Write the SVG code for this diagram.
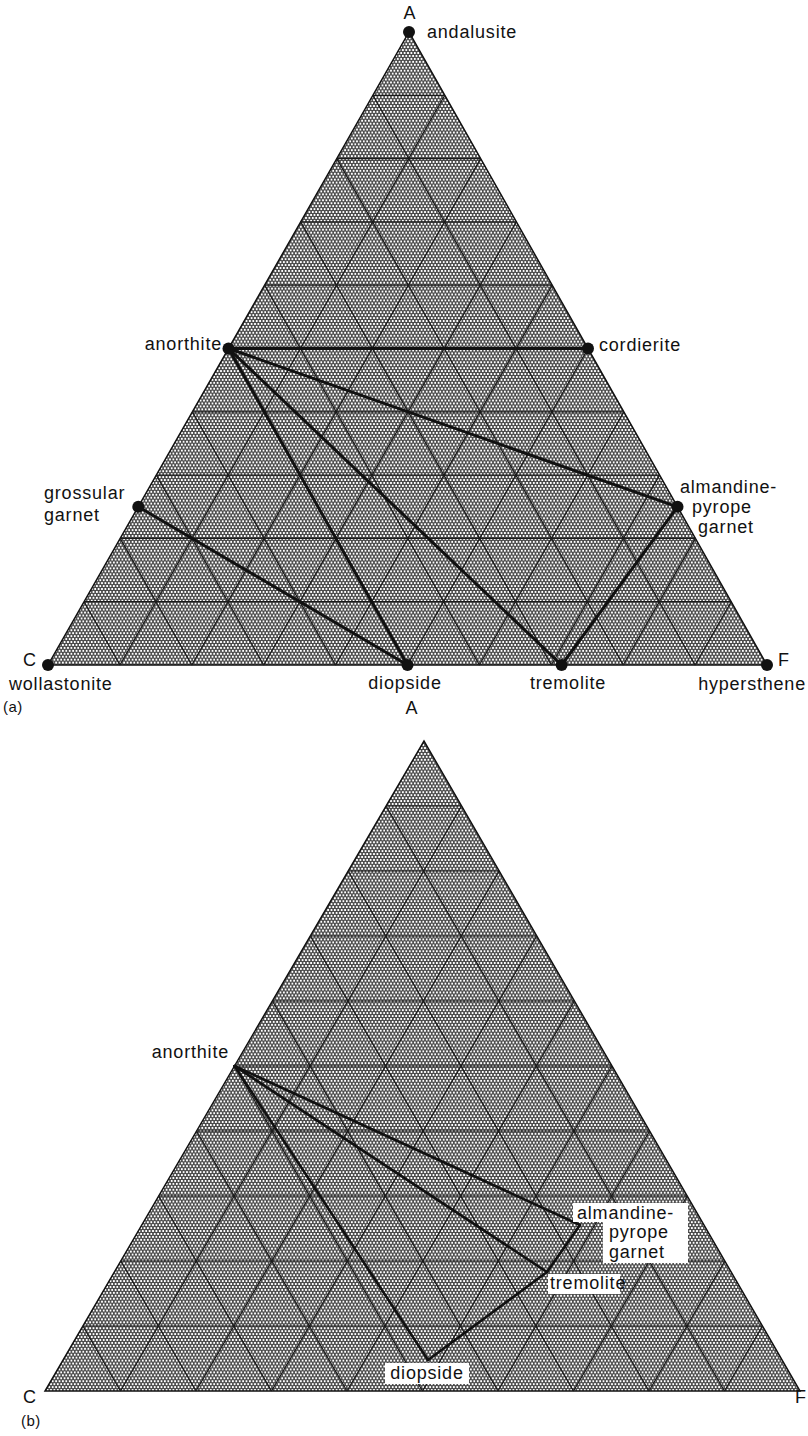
<svg xmlns="http://www.w3.org/2000/svg" width="808" height="1436" viewBox="0 0 808 1436">
<style>
text{font-family:"Liberation Sans",Arial,sans-serif;font-size:18px;fill:#111;letter-spacing:0.8px}
.mid{text-anchor:middle}
.end{text-anchor:end}
.fig{font-size:15px;letter-spacing:0.4px}
.grid{fill:none;stroke:#1a1a1a;stroke-width:1.2}
.tri{fill:url(#dots);stroke:#111;stroke-width:1.5}
.tie{fill:none;stroke:#111;stroke-width:3;stroke-linecap:round;stroke-linejoin:round}
.tieb{fill:none;stroke:#111;stroke-width:2.6;stroke-linecap:round;stroke-linejoin:round}
.dot{fill:#111}
.box{fill:#fff}
</style>
<defs>
<pattern id="dots" patternUnits="userSpaceOnUse" width="3.4" height="5.89">
<rect width="3.4" height="5.89" fill="#2e2e2e"/>
<circle cx="0" cy="0" r="1.15" fill="#fff"/>
<circle cx="3.4" cy="0" r="1.15" fill="#fff"/>
<circle cx="0" cy="5.89" r="1.15" fill="#fff"/>
<circle cx="3.4" cy="5.89" r="1.15" fill="#fff"/>
<circle cx="1.7" cy="2.945" r="1.15" fill="#fff"/>
</pattern>
</defs>
<rect width="808" height="1436" fill="#fff"/>

<!-- (a) -->
<g id="triangle-a">
<polygon class="tri" points="48,665 767,665 409,32"/>
<path class="grid" d="M84.1,601.7H731.2 M120.2,538.4H695.4 M156.3,475.1H659.6 M192.4,411.8H623.8 M228.5,348.5H588 M264.6,285.2H552.2 M300.7,221.9H516.4 M336.8,158.6H480.6 M372.9,95.3H444.8
M119.9,665L444.8,95.3 M191.8,665L480.6,158.6 M263.7,665L516.4,221.9 M335.6,665L552.2,285.2 M407.5,665L588,348.5 M479.4,665L623.8,411.8 M551.3,665L659.6,475.1 M623.2,665L695.4,538.4 M695.1,665L731.2,601.7
M119.9,665L84.1,601.7 M191.8,665L120.2,538.4 M263.7,665L156.3,475.1 M335.6,665L192.4,411.8 M407.5,665L228.5,348.5 M479.4,665L264.6,285.2 M551.3,665L300.7,221.9 M623.2,665L336.8,158.6 M695.1,665L372.9,95.3"/>
</g>
<g id="connectors-a">
<path class="tie" d="M228.5,348.5H588"/>
<path class="tie" d="M228.5,348.5L677.5,506.8"/>
<path class="tie" d="M228.5,348.5L407.5,665"/>
<path class="tie" d="M228.5,348.5L561.6,665"/>
<path class="tie" d="M138.3,506.8L407.5,665"/>
<path class="tie" d="M561.6,665L677.5,506.8"/>
</g>
<g id="node-a-andalusite"><circle class="dot" cx="409" cy="32" r="6"/><text class="mid" x="410" y="19">A</text><text x="427" y="38">andalusite</text></g>
<g id="node-a-anorthite"><circle class="dot" cx="228.5" cy="348.5" r="6"/><text class="end" x="222" y="350">anorthite</text></g>
<g id="node-a-cordierite"><circle class="dot" cx="588" cy="348.5" r="6"/><text x="599" y="351">cordierite</text></g>
<g id="node-a-grossular"><circle class="dot" cx="138.3" cy="506.8" r="6"/><text x="44" y="499">grossular</text><text x="44" y="521">garnet</text></g>
<g id="node-a-almandine"><circle class="dot" cx="677.5" cy="506.8" r="6"/><text x="680" y="493">almandine-</text><text x="692" y="513">pyrope</text><text x="698" y="533">garnet</text></g>
<g id="node-a-wollastonite"><circle class="dot" cx="48" cy="665" r="6"/><text class="mid" x="30" y="666">C</text><text x="9" y="690">wollastonite</text></g>
<g id="node-a-diopside"><circle class="dot" cx="407.5" cy="665" r="6"/><text class="mid" x="405" y="689">diopside</text></g>
<g id="node-a-tremolite"><circle class="dot" cx="561.6" cy="665" r="6"/><text class="mid" x="568" y="689">tremolite</text></g>
<g id="node-a-hypersthene"><circle class="dot" cx="767" cy="665" r="6"/><text class="mid" x="784" y="666">F</text><text class="end" x="806" y="690">hypersthene</text></g>
<text class="fig" x="3" y="712">(a)</text>

<!-- (b) -->
<g id="triangle-b">
<polygon class="tri" points="45,1391 800,1391 424,741"/>
<path class="grid" d="M82.9,1326H762.4 M120.8,1261H724.8 M158.7,1196H687.2 M196.6,1131H649.6 M234.5,1066H612 M272.4,1001H574.4 M310.3,936H536.8 M348.2,871H499.2 M386.1,806H461.6
M120.5,1391L461.6,806 M196,1391L499.2,871 M271.5,1391L536.8,936 M347,1391L574.4,1001 M422.5,1391L612,1066 M498,1391L649.6,1131 M573.5,1391L687.2,1196 M649,1391L724.8,1261 M724.5,1391L762.4,1326
M120.5,1391L82.9,1326 M196,1391L120.8,1261 M271.5,1391L158.7,1196 M347,1391L196.6,1131 M422.5,1391L234.5,1066 M498,1391L272.4,1001 M573.5,1391L310.3,936 M649,1391L348.2,871 M724.5,1391L386.1,806"/>
</g>
<g id="connectors-b">
<path class="tieb" d="M234.5,1066L580,1225" stroke-width="2"/>
<path class="tieb" d="M234.5,1066L547,1272"/>
<path class="tieb" d="M234.5,1066L428,1360"/>
<path class="tieb" d="M428,1360L547,1272L580,1225"/>
</g>
<g id="node-b-apex"><text class="mid" x="412" y="714">A</text></g>
<g id="node-b-anorthite"><text class="end" x="229" y="1058">anorthite</text></g>
<g id="node-b-almandine">
<path class="box" d="M573,1203H688V1263H603V1222H573Z"/>
<text x="577" y="1219">almandine-</text><text x="609" y="1238">pyrope</text><text x="609" y="1258">garnet</text>
</g>
<g id="node-b-tremolite"><rect class="box" x="548" y="1274" width="72" height="20"/><text x="550" y="1289">tremolite</text></g>
<g id="node-b-diopside"><rect class="box" x="385" y="1363" width="84" height="21"/><text class="mid" x="427" y="1379">diopside</text></g>
<g id="node-b-C"><text class="mid" x="30" y="1403">C</text></g>
<g id="node-b-F"><text x="795" y="1403">F</text></g>
<text class="fig" x="21" y="1426">(b)</text>
</svg>
